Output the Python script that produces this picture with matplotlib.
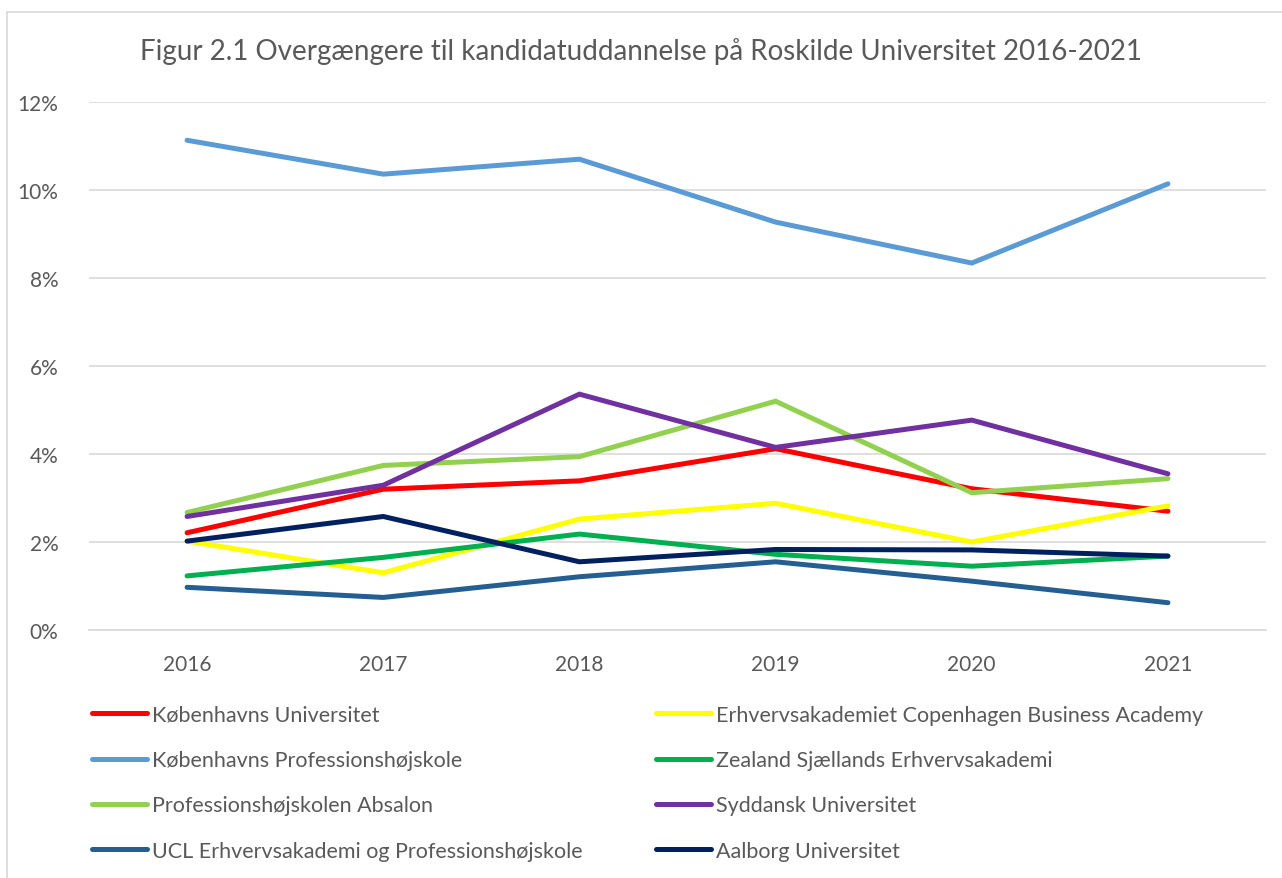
import matplotlib
matplotlib.use("Agg")
import matplotlib.pyplot as plt
from matplotlib.patches import Rectangle
from matplotlib.ticker import FuncFormatter

plt.rcParams['font.family'] = ['Lato', 'DejaVu Sans']

years = ['2016', '2017', '2018', '2019', '2020', '2021']

ku = [2.21, 3.20, 3.39, 4.12, 3.21, 2.70]
cba = [2.02, 1.30, 2.52, 2.88, 2.00, 2.82]
kp = [11.13, 10.36, 10.70, 9.27, 8.34, 10.14]
zealand = [1.23, 1.65, 2.18, 1.72, 1.45, 1.68]
absalon = [2.67, 3.74, 3.94, 5.20, 3.12, 3.44]
sdu = [2.58, 3.29, 5.36, 4.15, 4.77, 3.55]
ucl = [0.97, 0.74, 1.21, 1.55, 1.11, 0.62]
aau = [2.02, 2.58, 1.55, 1.83, 1.82, 1.68]

# (navn, data, farve) - rækkefølge som i legenden
series = [
    ('Københavns Universitet', ku, '#FF0000'),
    ('Erhvervsakademiet Copenhagen Business Academy', cba, '#FFFF00'),
    ('Københavns Professionshøjskole', kp, '#5B9BD5'),
    ('Zealand Sjællands Erhvervsakademi', zealand, '#00B050'),
    ('Professionshøjskolen Absalon', absalon, '#92D050'),
    ('Syddansk Universitet', sdu, '#7030A0'),
    ('UCL Erhvervsakademi og Professionshøjskole', ucl, '#255E91'),
    ('Aalborg Universitet', aau, '#002060'),
]

txt = '#595959'

fig = plt.figure(figsize=(12.82, 8.79), dpi=100)
fig.patches.append(Rectangle((7 / 1282, -0.01), 1.1, 1 - 13 / 879 + 0.01,
                             transform=fig.transFigure, fill=False,
                             edgecolor='#D9D9D9', lw=1.2))

ax = fig.add_axes([89 / 1282, 1 - 631 / 879, (1266 - 89) / 1282, (631 - 103) / 879])

x = list(range(len(years)))
handles = []
for name, vals, color in series:
    ln, = ax.plot(x, vals, color=color, lw=3.6, solid_capstyle='round',
                  solid_joinstyle='miter', label=name)
    handles.append(ln)

ax.set_xlim(-0.5, len(years) - 0.5)
ax.set_ylim(0, 12)
ax.set_yticks([0, 2, 4, 6, 8, 10, 12])
ax.yaxis.set_major_formatter(FuncFormatter(lambda v, p: f'{v:.0f}%'))
ax.set_xticks(x)
ax.set_xticklabels(years)
ax.grid(axis='y', color='#D9D9D9', lw=1.2)
ax.set_axisbelow(True)
for s in ax.spines.values():
    s.set_visible(False)
ax.spines['bottom'].set_visible(True)
ax.spines['bottom'].set_color('#D9D9D9')
ax.spines['bottom'].set_linewidth(1.2)
ax.tick_params(axis='both', length=0, labelsize=15, colors=txt)
ax.tick_params(axis='y', pad=22)
ax.tick_params(axis='x', pad=17)

fig.text(0.5, 1 - 52 / 879, 'Figur 2.1 Overgængere til kandidatuddannelse på Roskilde Universitet 2016-2021',
         ha='center', va='center', fontsize=20, color=txt)

# to legender, en pr. kolonne
for col, x0 in enumerate([92, 656]):
    hs = handles[col::2]
    ls = [s[0] for s in series[col::2]]
    leg = fig.legend(hs, ls, ncol=1, loc='upper left', bbox_to_anchor=(x0 / 1282, 1 - 706 / 879),
                     frameon=False, fontsize=15.5, handlelength=2.55, handletextpad=0.22,
                     labelspacing=1.17, borderaxespad=0, borderpad=0)
    for t in leg.get_texts():
        t.set_color(txt)

fig.savefig('out.png', dpi=100)
